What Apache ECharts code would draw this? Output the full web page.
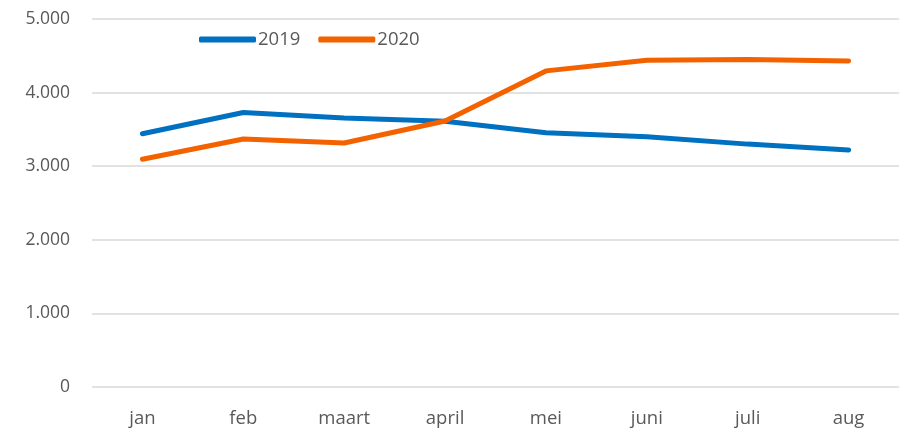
<!DOCTYPE html>
<html>
<head>
<meta charset="utf-8">
<script src="https://cdn.jsdelivr.net/npm/echarts@6/dist/echarts.min.js"></script>
<style>
  html, body { margin: 0; padding: 0; background: #fff; }
  #chart { width: 899px; height: 429px; }
</style>
</head>
<body>
<div id="chart"></div>
<script>
const months = ['jan', 'feb', 'maart', 'april', 'mei', 'juni', 'juli', 'aug']
const values2019 = [3440, 3730, 3655, 3610, 3455, 3400, 3300, 3220]
const values2020 = [3095, 3370, 3315, 3615, 4295, 4440, 4450, 4430]
const seriesNames = ['2019', '2020']
const colors = ['#0070C0', '#F46200']

// getal met punt als duizendtal-scheiding
const fmt = v => String(v).replace(/\B(?=(\d{3})+(?!\d))/g, '.')

const chart = echarts.init(document.getElementById('chart'))

const lineSeries = (name, data, color) => ({
  name,
  type: 'line',
  data,
  symbol: 'none',
  lineStyle: { width: 5, color, cap: 'round' },
  itemStyle: { color },
  z: name === '2020' ? 3 : 2
})

chart.setOption({
  animation: false,
  textStyle: { fontFamily: '"Open Sans", "Noto Sans", sans-serif' },
  legend: {
    data: seriesNames,
    left: 194,
    top: 25,
    itemWidth: 57,
    itemHeight: 6,
    itemGap: 18,
    icon: 'roundRect',
    textStyle: { fontSize: 18.5, color: '#595959', padding: [0, 0, 0, -3] }
  },
  grid: { left: 92, right: 0, top: 19, bottom: 42 },
  xAxis: {
    type: 'category',
    data: months,
    boundaryGap: true,
    axisLine: { show: false },
    axisTick: { show: false },
    axisLabel: { fontSize: 18.5, color: '#595959', margin: 22 }
  },
  yAxis: {
    type: 'value',
    min: 0,
    max: 5000,
    interval: 1000,
    axisLine: { show: false },
    axisTick: { show: false },
    axisLabel: { fontSize: 17.5, color: '#595959', margin: 22, formatter: fmt },
    splitLine: { lineStyle: { color: '#d9d9d9', width: 1.5 } }
  },
  series: [
    lineSeries(seriesNames[0], values2019, colors[0]),
    lineSeries(seriesNames[1], values2020, colors[1])
  ]
})
</script>
</body>
</html>
